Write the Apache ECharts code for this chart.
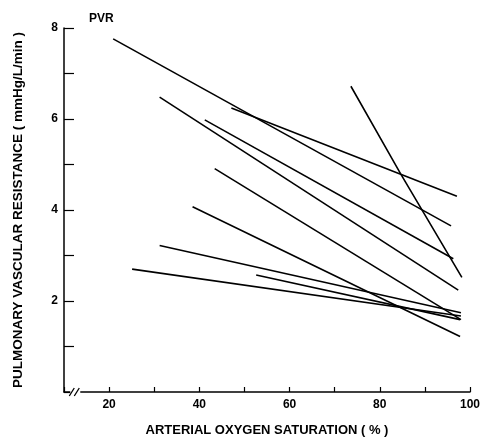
<!DOCTYPE html>
<html>
<head>
<meta charset="utf-8">
<script src="https://cdn.jsdelivr.net/npm/echarts@6/dist/echarts.min.js"></script>
<style>
  html, body { margin: 0; padding: 0; background: #fff; }
  #chart { width: 483px; height: 442px; }
</style>
</head>
<body>
<div id="chart"></div>
<script>
// individual subject regressions: [saturation %, PVR]
const lineA = [[20.9, 7.76], [95.8, 3.65]];
const lineB = [[47.1, 6.24], [97.1, 4.30]];
const lineS = [[73.6, 6.72], [84.6, 4.80], [98.2, 2.52]];
const lineC = [[31.2, 6.48], [97.4, 2.24]];
const lineD = [[41.2, 5.98], [96.3, 2.93]];
const lineE = [[43.4, 4.91], [98.0, 1.59]];
const lineF = [[38.5, 4.07], [97.8, 1.22]];
const lineG = [[31.2, 3.22], [98.0, 1.74]];
const lineH = [[25.1, 2.70], [98.0, 1.67]];
const lineI = [[52.6, 2.57], [97.8, 1.59]];

const allLines = [lineA, lineB, lineS, lineC, lineD, lineE, lineF, lineG, lineH, lineI];

const xLabels = [20, 40, 60, 80, 100];
const yLabels = [2, 4, 6, 8];

const font = 'Liberation Sans';

const chart = echarts.init(document.getElementById('chart'));

chart.setOption({
  animation: false,
  backgroundColor: '#fff',
  grid: { left: 64, right: 11, top: 28, bottom: 47 },
  title: {
    text: 'PVR',
    left: 84, top: 8,
    textStyle: { fontFamily: font, fontSize: 12, fontWeight: 'bold', color: '#000' }
  },
  xAxis: {
    type: 'value', min: 10, max: 100, interval: 10,
    name: 'ARTERIAL OXYGEN SATURATION ( % )',
    nameLocation: 'middle', nameGap: 32,
    nameTextStyle: { fontFamily: font, fontSize: 13, fontWeight: 'bold', color: '#000' },
    axisLine: { lineStyle: { color: '#000', width: 1.5 } },
    axisTick: { inside: true, length: 5, lineStyle: { color: '#000', width: 1.2 } },
    axisLabel: {
      fontFamily: font, fontSize: 12, fontWeight: 'bold', color: '#000', margin: 7,
      formatter: v => xLabels.includes(v) ? String(v) : ''
    },
    splitLine: { show: false }
  },
  yAxis: {
    type: 'value', min: 0, max: 8, interval: 1,
    name: 'PULMONARY VASCULAR RESISTANCE ( mmHg/L/min )',
    nameLocation: 'middle', nameGap: 39,
    nameTextStyle: { fontFamily: font, fontSize: 13.5, fontWeight: 'bold', color: '#000' },
    axisLine: { show: true, lineStyle: { color: '#000', width: 1.5 } },
    axisTick: { show: true, inside: true, length: 10, lineStyle: { color: '#000', width: 1.2 } },
    axisLabel: {
      fontFamily: font, fontSize: 12, fontWeight: 'bold', color: '#000', margin: 6,
      formatter: v => yLabels.includes(v) ? String(v) : ''
    },
    splitLine: { show: false }
  },
  series: allLines.map(d => ({
    type: 'line',
    data: d,
    symbol: 'none',
    lineStyle: { color: '#000', width: 1.6 }
  }))
});

// axis break mark near the origin
const bx = chart.convertToPixel({ xAxisIndex: 0 }, 12.5);
const by = chart.convertToPixel({ yAxisIndex: 0 }, 0);
chart.setOption({
  graphic: [
    { type: 'rect', shape: { x: bx - 5, y: by - 3, width: 10, height: 6 }, style: { fill: '#fff' }, z: 100 },
    { type: 'line', shape: { x1: bx - 6, y1: by + 4, x2: bx - 1, y2: by - 4 }, style: { stroke: '#000', lineWidth: 1.3 }, z: 101 },
    { type: 'line', shape: { x1: bx - 1, y1: by + 4, x2: bx + 4, y2: by - 4 }, style: { stroke: '#000', lineWidth: 1.3 }, z: 101 }
  ]
});
</script>
</body>
</html>
